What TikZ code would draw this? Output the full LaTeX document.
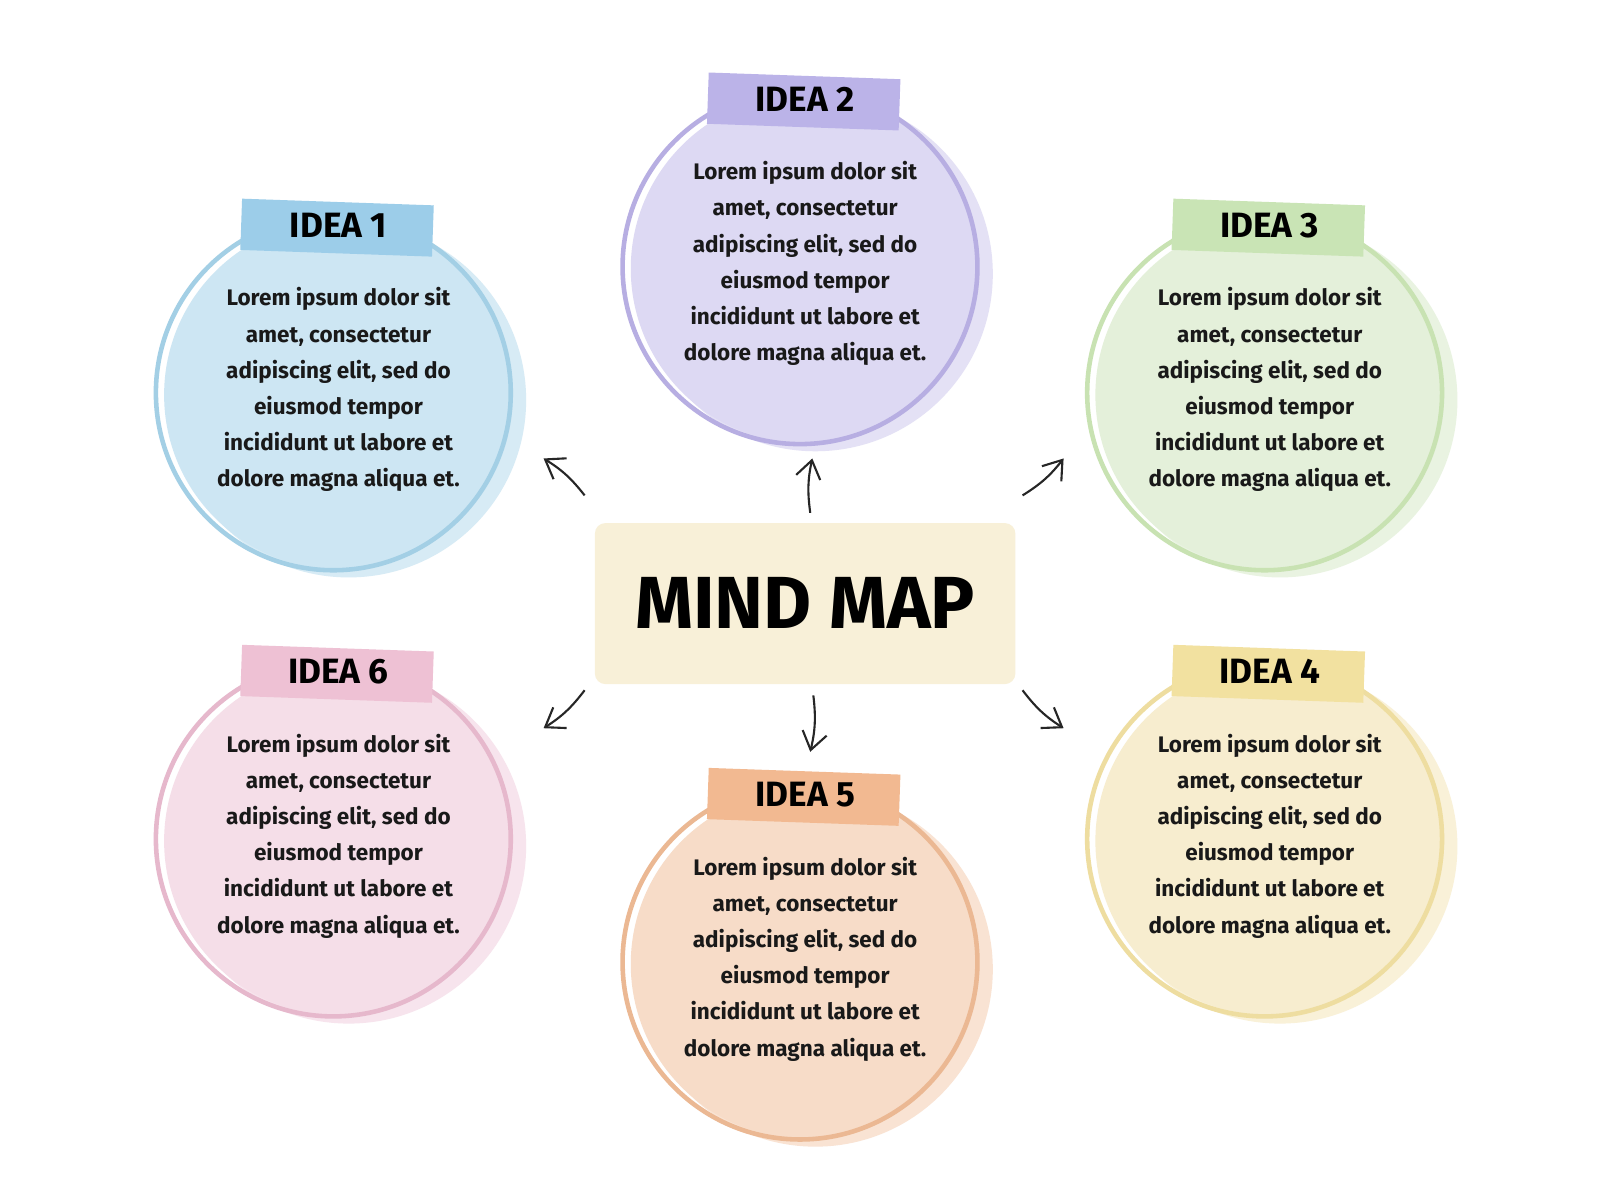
\documentclass[tikz,border=0pt]{standalone}
\usepackage{fontspec}
\setmainfont{Fira Sans}
\usetikzlibrary{arrows.meta}
\definecolor{bF}{HTML}{CDE6F3}\definecolor{bE}{HTML}{A3CFE5}\definecolor{bT}{HTML}{9CCDE9}
\definecolor{pF}{HTML}{DDD9F3}\definecolor{pE}{HTML}{B7AEE2}\definecolor{pT}{HTML}{BBB3E8}
\definecolor{gF}{HTML}{E4F0DA}\definecolor{gE}{HTML}{C8E2B2}\definecolor{gT}{HTML}{C9E4B5}
\definecolor{yF}{HTML}{F7EDCF}\definecolor{yE}{HTML}{EEDDA0}\definecolor{yT}{HTML}{F2E1A0}
\definecolor{oF}{HTML}{F7DCC8}\definecolor{oE}{HTML}{EBB893}\definecolor{oT}{HTML}{F2B991}
\definecolor{kF}{HTML}{F5DEE8}\definecolor{kE}{HTML}{E6B8CC}\definecolor{kT}{HTML}{EEC1D4}
\definecolor{cF}{HTML}{F8F0D8}
\tikzset{x=0.01026cm,y=-0.01026cm,
 body/.style={align=center,font=\bfseries\fontsize{6.4}{10.3}\selectfont,text=black!90},
 tag/.style={font=\bfseries\fontsize{10}{12}\selectfont,text=black},
 arr/.style={-{Straight Barb[length=5pt,width=7pt]},line width=0.6pt,black!85}}
\newcommand\idea[7]{% x y fill edge tape label name
 \fill[#3!80] (#1+10,#2+5) circle (173);
 \fill[#3] (#1,#2) circle (170);
 \draw[#4,line width=1.3pt] (#1-5,#2-2) circle (173);
 \fill[#5,rotate around={-2:(#1,#2-160)}] (#1-95,#2-188) rectangle (#1+92,#2-138);
 \node[tag] (#7t) at (#1,#2-165) {#6};
 \node[body] (#7) at (#1,#2-5) {Lorem ipsum dolor sit\\amet, consectetur\\adipiscing elit, sed do\\eiusmod tempor\\incididunt ut labore et\\dolore magna aliqua et.};}
\begin{document}
\begin{tikzpicture}
\useasboundingbox (0,0) rectangle (1560,1170);
\fill[white] (0,0) rectangle (1560,1170);
\idea{330}{385}{bF}{bE}{bT}{IDEA 1}{i1}
\idea{785}{262}{pF}{pE}{pT}{IDEA 2}{i2}
\idea{1238}{385}{gF}{gE}{gT}{IDEA 3}{i3}
\idea{1238}{820}{yF}{yE}{yT}{IDEA 4}{i4}
\idea{785}{940}{oF}{oE}{oT}{IDEA 5}{i5}
\idea{330}{820}{kF}{kE}{kT}{IDEA 6}{i6}
\fill[cF,rounded corners=3pt] (580,510) rectangle (990,667);
\node[font=\bfseries\fontsize{21}{24}\selectfont] (c) at (785,588) {MIND MAP};
\coordinate (a1) at (570,483); \coordinate (b1) at (530,447);
\coordinate (a2) at (790,500); \coordinate (b2) at (792,447);
\coordinate (a3) at (997,483); \coordinate (b3) at (1037,447);
\coordinate (a6) at (570,673); \coordinate (b6) at (530,710);
\coordinate (a5) at (793,678); \coordinate (b5) at (790,733);
\coordinate (a4) at (997,673); \coordinate (b4) at (1037,710);
\draw[arr] (a1) to[bend right=10] (b1);
\draw[arr] (a2) to[bend left=10] (b2);
\draw[arr] (a3) to[bend right=10] (b3);
\draw[arr] (a6) to[bend left=10] (b6);
\draw[arr] (a5) to[bend left=10] (b5);
\draw[arr] (a4) to[bend right=10] (b4);
\end{tikzpicture}
\end{document}
